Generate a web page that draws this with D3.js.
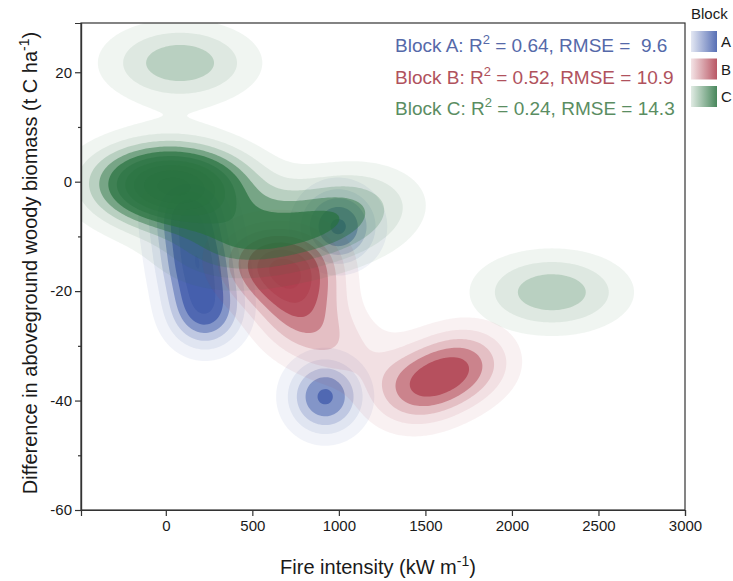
<!DOCTYPE html>
<html><head><meta charset="utf-8">
<script src="https://cdn.jsdelivr.net/npm/d3@7"></script>
<style>
body{margin:0;background:#fff}
svg{display:block}
text{font-family:"Liberation Sans", Arial, Helvetica, sans-serif}
</style>
</head><body>
<svg id="chart" width="733" height="581"></svg>
<script>
// ---------------- data ----------------
const blocks = ["A", "B", "C"];
const blockColors = ["#3a56a8", "#ad3a4a", "#28723f"];
const textColors = ["#5569a9", "#b0525d", "#5a8d62"];
const r2Values = ["0.64", "0.52", "0.24"];
const rmseValues = [" 9.6", "10.9", "14.3"];
const xTicks = [0, 500, 1000, 1500, 2000, 2500, 3000];
const yTicks = [-60, -40, -20, 0, 20];
const yMinorTicks = [-50, -30, -10, 10];
const xDomain = [-490, 3000];
const yDomain = [-60, 29];

// observations (fire intensity kW/m, biomass difference t C/ha) per block
const pointsA = [
  [134, -5.6], [181, -14.7], [227, -23.8],
  [996, -8.2], [921, -39.3]
];
const pointsB = [
  [458, -13.8], [631, -13.8], [804, -13.8], [631, -17.6], [764, -17.6],
  [776, -22.8], [788, -26.8],
  [1020, -31.0],
  [1365, -39.2], [1475, -37.4], [1585, -35.7], [1694, -33.9], [1804, -32.2]
];
const pointsC = [
  [-33, 21.7], [198, 21.7],
  [2115, -20.2], [2346, -20.2],
  [-177, 0.8], [-4, 0.8], [169, 0.8], [-90, -2.3], [84, -2.3], [228, -1.9],
  [296, -12.4], [527, -10.7], [759, -9.1], [990, -7.4],
  [1120, -3.0]
];
const blockPoints = [pointsA, pointsB, pointsC];
// kernel widths (data units) per block
const kernelX = [156, 185, 266];
const kernelY = [4.93, 4.93, 4.93];
// density step between contour levels (in units of one-point peak)
const levelStep = [0.192, 0.56, 0.486];
const levelAlpha = [0.07, 0.09, 0.2, 0.45, 0.7, 0.5, 0.4, 0.35, 0.3, 0.3, 0.3, 0.3, 0.3, 0.3];

// ---------------- layout ----------------
const svg = d3.select("#chart");
const L = 81, R = 685, T = 23, B = 510;
const x = d3.scaleLinear().domain(xDomain).range([L, R]);
const y = d3.scaleLinear().domain(yDomain).range([B, T]);

const defs = svg.append("defs");
defs.append("clipPath").attr("id", "clip")
  .append("rect").attr("x", L).attr("y", T).attr("width", R - L).attr("height", B - T);

const cell = 2;
const nx = Math.ceil((R - L) / cell), ny = Math.ceil((B - T) / cell);
const path = d3.geoPath(d3.geoIdentity().scale(cell).translate([L, T]));
const gDens = svg.append("g").attr("clip-path", "url(#clip)");

blocks.forEach((b, bi) => {
  const vals = new Float64Array(nx * ny);
  const sx = Math.abs(x(kernelX[bi]) - x(0));
  const sy = Math.abs(y(kernelY[bi]) - y(0));
  blockPoints[bi].forEach(p => {
    const cx = x(p[0]), cy = y(p[1]);
    const i0 = Math.max(0, Math.floor((cx - 4.5 * sx - L) / cell));
    const i1 = Math.min(nx - 1, Math.ceil((cx + 4.5 * sx - L) / cell));
    const j0 = Math.max(0, Math.floor((cy - 4.5 * sy - T) / cell));
    const j1 = Math.min(ny - 1, Math.ceil((cy + 4.5 * sy - T) / cell));
    for (let j = j0; j <= j1; j++) {
      const dy = (T + (j + 0.5) * cell - cy) / sy;
      for (let i = i0; i <= i1; i++) {
        const dx = (L + (i + 0.5) * cell - cx) / sx;
        vals[j * nx + i] += Math.exp(-0.5 * (dx * dx + dy * dy));
      }
    }
  });
  const thresholds = d3.range(1, levelAlpha.length + 1).map(k => k * levelStep[bi]);
  const contours = d3.contours().size([nx, ny]).thresholds(thresholds)(vals);
  const g = gDens.append("g").attr("class", "block-" + b);
  contours.forEach((c, k) => {
    if (!c.coordinates.length) return;
    g.append("path").attr("d", path(c))
      .attr("fill", blockColors[bi])
      .attr("fill-opacity", levelAlpha[k]);
  });
});

// ---------------- frame & axes ----------------
svg.append("rect").attr("x", L).attr("y", T).attr("width", R - L).attr("height", B - T)
  .attr("fill", "none").attr("stroke", "#333").attr("stroke-width", 1.2);

const xAxis = svg.append("g").attr("transform", `translate(0,${B})`)
  .call(d3.axisBottom(x).tickValues(xTicks).tickSize(6).tickPadding(4).tickFormat(d => String(d)));
const yAxis = svg.append("g").attr("transform", `translate(${L},0)`)
  .call(d3.axisLeft(y).tickValues(yTicks).tickSize(6).tickPadding(3).tickFormat(d => String(d)));
const yMinor = svg.append("g").attr("transform", `translate(${L},0)`)
  .call(d3.axisLeft(y).tickValues(yMinorTicks).tickSize(3).tickFormat(""));
[xAxis, yAxis, yMinor].forEach(a => {
  a.select(".domain").attr("stroke", "#333").attr("stroke-width", 1.2);
  a.selectAll(".tick line").attr("stroke", "#333").attr("stroke-width", 1.2);
  a.selectAll(".tick text").attr("fill", "#1a1a1a").style("font-size", "15px")
    .style("font-family", '"Liberation Sans", Arial, sans-serif');
});

// axis titles
const xt = svg.append("text").attr("x", 378).attr("y", 574).attr("text-anchor", "middle")
  .style("font-size", "20px").attr("fill", "#1a1a1a");
xt.append("tspan").text("Fire intensity (kW m");
xt.append("tspan").attr("dy", -8).style("font-size", "14px").text("-1");
xt.append("tspan").attr("dy", 8).text(")");

const yt = svg.append("text").attr("transform", "translate(37,263) rotate(-90)")
  .attr("text-anchor", "middle").style("font-size", "20px").attr("fill", "#1a1a1a");
yt.append("tspan").text("Difference in aboveground woody biomass (t C ha");
yt.append("tspan").attr("dy", -8).style("font-size", "14px").text("-1");
yt.append("tspan").attr("dy", 8).text(")");

// annotations
blocks.forEach((b, bi) => {
  const t = svg.append("text").attr("x", 395).attr("y", 52 + bi * 31.5)
    .style("font-size", "19px").attr("fill", textColors[bi])
    .style("white-space", "pre");
  t.append("tspan").text(`Block ${b}: R`);
  t.append("tspan").attr("dy", -8).style("font-size", "13px").text("2");
  t.append("tspan").attr("dy", 8).text(` = ${r2Values[bi]}, RMSE = ${rmseValues[bi]}`);
});

// legend
svg.append("text").attr("x", 691).attr("y", 19).style("font-size", "15px")
  .attr("fill", "#1a1a1a").text("Block");
blocks.forEach((b, bi) => {
  const gid = "lg" + b;
  const grad = defs.append("linearGradient").attr("id", gid);
  grad.append("stop").attr("offset", "0%").attr("stop-color", blockColors[bi]).attr("stop-opacity", 0.14);
  grad.append("stop").attr("offset", "100%").attr("stop-color", blockColors[bi]).attr("stop-opacity", 0.85);
  const yy = 31 + bi * 27.5;
  svg.append("rect").attr("x", 691).attr("y", yy).attr("width", 26).attr("height", 21)
    .attr("fill", `url(#${gid})`);
  svg.append("text").attr("x", 721).attr("y", yy + 16).style("font-size", "15px")
    .attr("fill", "#1a1a1a").text(b);
});
</script>
</body></html>
